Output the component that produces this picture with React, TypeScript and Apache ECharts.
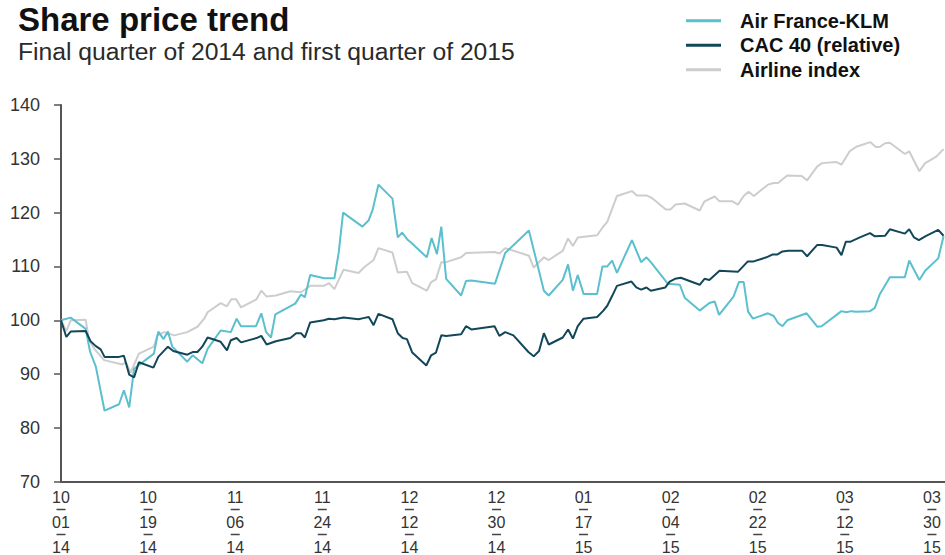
import { useEffect, useRef } from 'react';
import * as echarts from 'echarts';

// Days counted from 2014-10-01 (first label), values indexed (start = 100)
const START = { y: 2014, m: 9, d: 1 };
const LABEL_STEP_DAYS = 18;
const X_MAX_DAYS = 182.7;

const seriesNames = ['Air France-KLM', 'CAC 40 (relative)', 'Airline index'];

const airFranceKLM: [number, number][] = [
  [0, 100], [2.0, 100.5], [5.1, 98.4], [6.0, 94.2], [7.2, 91.4], [9.0, 83.2], [12.0, 84.4],
  [13.0, 87], [14.1, 83.8], [15.1, 91], [19.2, 93.8], [20.1, 97.9], [21.2, 96.5], [22.1, 97.9],
  [23.0, 95.1], [26.1, 92.3], [27.2, 93.5], [29.2, 92], [30.3, 94.7], [33.0, 98.1], [35.1, 97.8],
  [36.3, 100.3], [37.2, 98.9], [40.3, 98.9], [41.4, 101.3], [42.4, 97.8], [43.4, 96.8],
  [44.3, 101.1], [48.4, 103.1], [49.6, 104.8], [50.4, 104.3], [51.5, 108.4], [54.4, 107.8],
  [56.5, 107.8], [57.4, 112.6], [58.3, 120], [62.3, 117.4], [63.6, 118.6], [64.4, 120.5],
  [65.6, 125.2], [68.5, 122.6], [69.6, 115.4], [70.5, 116.3], [71.7, 114.9], [72.4, 114.4],
  [75.6, 111.7], [76.6, 115.3], [77.7, 112.3], [78.6, 117.4], [79.6, 107.7], [82.7, 104.6],
  [83.7, 107.3], [84.8, 107.4], [89.7, 106.8], [90.8, 109.8], [91.8, 112.5], [96.7, 116.7],
  [99.8, 105.5], [100.8, 104.6], [103.7, 107.5], [104.8, 110.4], [105.8, 105.5], [106.8, 108.4],
  [108.0, 104.9], [110.8, 104.9], [111.9, 110], [112.9, 110], [113.9, 111.1], [114.9, 108.8],
  [118.0, 114.9], [119.9, 110.8], [121.0, 111.7], [121.9, 110.8], [125.4, 106.8], [127.9, 106.6],
  [128.9, 104.2], [132.0, 101.8], [134.0, 103.2], [135.1, 103.5], [136.0, 101], [139.0, 104.4],
  [140.1, 107.1], [141.1, 107.1], [142.0, 101.6], [143.0, 100.3], [146.1, 101.3], [147.3, 100.8],
  [148.2, 99.5], [149.1, 98.9], [150.1, 100], [154.1, 101.3], [156.3, 98.8], [157.2, 98.9],
  [161.3, 101.7], [162.3, 101.5], [163.3, 101.7], [164.3, 101.6], [167.2, 101.7], [168.2, 102.3],
  [169.2, 104.8], [171.3, 108], [174.4, 108], [175.3, 111.1], [177.4, 107.5], [178.6, 109.2],
  [181.3, 111.5], [182.4, 115.6],
];

const cac40Relative: [number, number][] = [
  [0, 100], [1.1, 96.9], [2.0, 97.9], [5.1, 98], [6.1, 96.1], [7.2, 95.2], [8.2, 94.6],
  [9.0, 93.2], [12.0, 93.2], [13.0, 93.4], [14.1, 89.9], [15.1, 89.4], [16.1, 92.2],
  [19.1, 91.2], [20.1, 93.2], [22.1, 95.1], [23.2, 94.3], [26.1, 93.6], [27.2, 94.1],
  [28.2, 94.1], [29.2, 95.1], [30.3, 96.8], [33.0, 96], [34.3, 94.4], [35.1, 96.3],
  [36.3, 96.7], [37.2, 95.9], [40.4, 96.7], [41.4, 97.1], [42.5, 95.5], [44.4, 96.1],
  [47.4, 96.7], [48.6, 97.6], [49.6, 97.6], [50.4, 96.8], [51.5, 99.6], [54.3, 100],
  [55.4, 100.3], [56.5, 100.2], [58.4, 100.5], [61.5, 100.2], [62.5, 100.4], [63.6, 100.6],
  [64.6, 99.1], [65.6, 101.2], [68.5, 100.2], [69.6, 97.6], [70.6, 96.7], [71.5, 96.5],
  [72.6, 94], [75.5, 91.6], [76.5, 93.5], [77.5, 94], [78.6, 97.2], [79.6, 97.1], [82.7, 97.4],
  [83.7, 98.9], [84.8, 98.3], [89.6, 98.9], [90.6, 97.1], [91.8, 97.8], [93.5, 97.2],
  [96.6, 94.1], [97.7, 93.3], [98.8, 94.3], [99.8, 97.6], [100.8, 95.5], [103.7, 96.8],
  [104.8, 98.3], [105.8, 96.6], [106.8, 98.9], [108.0, 100.3], [110.8, 100.6], [112.0, 101.7],
  [112.9, 102.7], [113.9, 104.5], [114.9, 106.4], [117.9, 107.2], [118.9, 106.1], [119.9, 105.7],
  [121.0, 106.1], [121.9, 105.5], [124.9, 106.1], [125.8, 107.2], [126.9, 107.7], [128.1, 107.9],
  [132.0, 106.6], [133.0, 107.7], [134.0, 107.5], [136.1, 109.2], [139.9, 109], [141.9, 110.9],
  [143.0, 110.9], [145.8, 111.7], [147.0, 112.2], [148.0, 112.2], [149.1, 112.8], [150.3, 112.9],
  [153.2, 112.9], [154.2, 111.9], [156.3, 114], [157.3, 114], [160.3, 113.5], [161.3, 112.1],
  [162.2, 114.6], [163.2, 114.6], [165.1, 115.4], [167.2, 116.2], [168.2, 115.6], [170.3, 115.7],
  [171.3, 116.9], [174.4, 116.1], [175.3, 116.9], [176.3, 115.4], [177.3, 114.9], [178.8, 115.7],
  [181.3, 116.8], [182.4, 115.7],
];

const airlineIndex: [number, number][] = [
  [0, 100], [1.1, 98], [2.0, 100], [5.1, 100.1], [5.8, 96.3], [6.9, 94.7], [8.9, 92.6],
  [12.7, 91.8], [13.4, 92.2], [14.4, 90.3], [16.1, 93.8], [19.2, 95.1], [19.9, 97.2],
  [21.3, 97.8], [23.4, 97.2], [26.1, 97.8], [28.2, 98.8], [29.6, 100.3], [30.3, 101.5],
  [33.0, 103.2], [34.3, 102.6], [35.2, 103.9], [36.2, 103.9], [37.2, 102.4], [40.4, 103.9],
  [41.4, 105.5], [42.5, 104.4], [44.4, 104.6], [47.4, 105.4], [49.6, 105.2], [51.5, 106.4],
  [54.3, 106.4], [55.4, 106.9], [56.5, 105.8], [58.4, 109.4], [61.5, 108.8], [62.6, 109.8],
  [64.6, 111.2], [65.6, 113.4], [68.5, 112.6], [69.6, 108.9], [71.5, 109], [72.6, 106.9],
  [75.6, 105.5], [76.5, 107.1], [77.5, 107.6], [78.6, 110.8], [79.6, 110.8], [82.7, 111.7],
  [83.7, 112.5], [89.6, 112.7], [90.6, 112.4], [91.8, 113.4], [96.7, 112], [97.7, 109.8],
  [99.8, 111.7], [100.8, 111.2], [103.7, 112.9], [104.8, 115.2], [105.8, 113.8], [106.8, 115.4],
  [110.8, 115.8], [111.9, 117.2], [112.9, 118.3], [114.9, 123.1], [118.0, 124], [119.0, 123.2],
  [121.0, 123.2], [122.0, 122.8], [125.0, 120.6], [126.0, 120.6], [127.0, 121.5], [128.9, 121.7],
  [132.0, 120.4], [133.0, 122.1], [135.1, 123], [136.1, 122.1], [138.8, 122.1], [139.9, 121.5],
  [141.1, 123.1], [142.1, 123.9], [143.2, 123.1], [146.1, 125.2], [147.3, 125.5], [148.2, 125.5],
  [150.1, 126.9], [153.1, 126.8], [154.2, 126], [156.3, 128.6], [157.3, 129.2], [160.3, 129.4],
  [161.3, 128.9], [163.0, 131.4], [164.5, 132.3], [167.3, 133.1], [168.4, 132.2], [169.2, 132.2],
  [170.3, 132.9], [171.3, 133], [174.4, 130.9], [175.3, 131.4], [177.4, 127.7], [178.6, 129.2],
  [180.9, 130.4], [182.4, 131.8],
];

const colors = ['#5bbfce', '#12475a', '#cdcdcd'];
const FONT = "'Liberation Sans', Arial, Helvetica, sans-serif";

function pad2(n: number) {
  return String(n).padStart(2, '0');
}

export default function App() {
  const ref = useRef<HTMLDivElement>(null);

  useEffect(() => {
    if (!ref.current) return;
    const chart = echarts.init(ref.current, undefined, { renderer: 'svg' });
    const option: any = {
      animation: false,
      textStyle: { fontFamily: FONT },
      title: {
        text: 'Share price trend',
        subtext: 'Final quarter of 2014 and first quarter of 2015',
        left: 13,
        top: -2,
        itemGap: 3,
        textStyle: { fontFamily: FONT, fontSize: 33, fontWeight: 'bold', color: '#111' },
        subtextStyle: { fontFamily: FONT, fontSize: 24.7, color: '#2a2a2a' },
      },
      legend: {
        orient: 'vertical',
        left: 681,
        top: 3.5,
        itemWidth: 35,
        itemHeight: 3,
        itemGap: 0,
        icon: 'rect',
        data: seriesNames,
        textStyle: {
          fontFamily: FONT,
          fontSize: 20,
          fontWeight: 'bold',
          color: '#111',
          lineHeight: 24.5,
          padding: [0, 0, 0, 14],
        },
      },
      grid: { left: 61, right: 0, top: 105, bottom: 71, containLabel: false },
      xAxis: {
        type: 'value',
        min: 0,
        max: X_MAX_DAYS,
        interval: LABEL_STEP_DAYS,
        splitLine: { show: false },
        axisTick: { show: false },
        axisLine: { show: true, lineStyle: { color: '#555', width: 2 } },
        axisLabel: {
          showMaxLabel: false,
          margin: 9,
          fontFamily: FONT,
          fontSize: 16,
          color: '#333',
          lineHeight: 12.5,
          formatter: (v: number) => {
            if (Math.abs(v % LABEL_STEP_DAYS) > 1e-6) return '';
            const d = new Date(Date.UTC(START.y, START.m, START.d + v));
            const mm = pad2(d.getUTCMonth() + 1);
            const dd = pad2(d.getUTCDate());
            const yy = pad2(d.getUTCFullYear() % 100);
            return `${mm}\n{sep| }\n${dd}\n{sep| }\n${yy}`;
          },
          rich: {
            sep: { width: 9, height: 1.5, lineHeight: 12.5, backgroundColor: '#444' },
          },
        },
      },
      yAxis: {
        type: 'value',
        min: 70,
        max: 140,
        interval: 10,
        splitLine: { show: false },
        axisLine: { show: true, lineStyle: { color: '#555', width: 2 } },
        axisTick: { show: true, inside: false, length: 7, lineStyle: { color: '#555', width: 1.5 } },
        axisLabel: { margin: 21, fontFamily: FONT, fontSize: 18, color: '#333' },
      },
      series: [
        {
          name: seriesNames[2],
          type: 'line',
          data: airlineIndex,
          showSymbol: false,
          color: colors[2],
          lineStyle: { width: 2, color: colors[2] },
          z: 1,
        },
        {
          name: seriesNames[0],
          type: 'line',
          data: airFranceKLM,
          showSymbol: false,
          color: colors[0],
          lineStyle: { width: 2, color: colors[0] },
          z: 2,
        },
        {
          name: seriesNames[1],
          type: 'line',
          data: cac40Relative,
          showSymbol: false,
          color: colors[1],
          lineStyle: { width: 2, color: colors[1] },
          z: 3,
        },
      ],
    };
    chart.setOption(option);
    return () => chart.dispose();
  }, []);

  return (
    <div
      ref={ref}
      style={{ position: 'fixed', left: 0, top: 0, width: 945, height: 555, background: '#fff' }}
    />
  );
}
